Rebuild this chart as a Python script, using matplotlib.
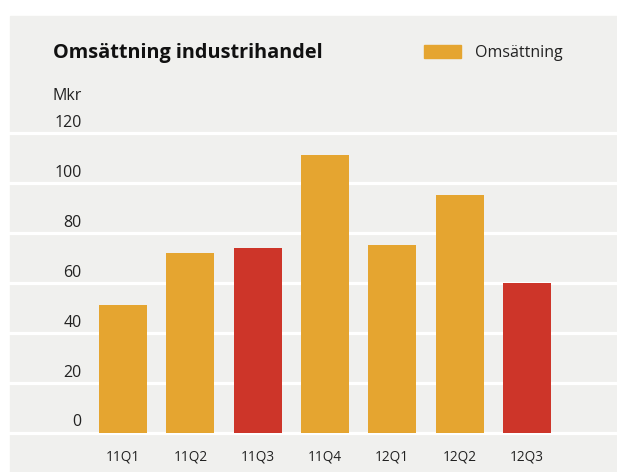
import matplotlib.pyplot as plt
from matplotlib.patches import Rectangle, Patch
from matplotlib import transforms

plt.rcParams['font.family'] = ['Open Sans', 'DejaVu Sans']

quarters = ['11Q1', '11Q2', '11Q3', '11Q4', '12Q1', '12Q2', '12Q3']
omsattning = [51, 72, 74, 111, 75, 95, 60]
highlight = [False, False, True, False, False, False, True]
y_ticks = [0, 20, 40, 60, 80, 100, 120]

orange = '#e5a530'
red = '#cd3529'
bg = '#f0f0ee'
txt = '#222222'

W, H = 617, 472
fig = plt.figure(figsize=(W / 100, H / 100), dpi=100)
fig.patches.append(Rectangle((10 / W, 0), (W - 10) / W, (H - 16) / H,
                             transform=fig.transFigure, color=bg, zorder=-1))

ax = fig.add_axes([10 / W, (H - 432.5) / H, (W - 10) / W, (432.5 - 133) / H])
ax.set_facecolor('none')
for s in ax.spines.values():
    s.set_visible(False)

for v in y_ticks:
    ax.axhline(v, color='white', lw=2.3, clip_on=False, zorder=1)

x = range(len(quarters))
colors = [red if h else orange for h in highlight]
ax.bar(x, omsattning, width=0.713, color=colors, zorder=2)

ax.set_xlim(-1.68, 7.34)
ax.set_ylim(0, 120)
ax.set_yticks([])
ax.set_xticks(list(x), quarters, fontsize=9.8, color=txt)
ax.tick_params(axis='x', length=0, pad=12.5)

trans = transforms.blended_transform_factory(ax.transAxes, ax.transData)
trans = transforms.offset_copy(trans, fig=fig, x=0, y=10, units='dots')
for v in y_ticks:
    ax.text((81.7 - 10) / (W - 10), v, str(v), transform=trans, ha='right',
            va='center', fontsize=11.5, color=txt)

fig.text(52.7 / W, 1 - 53 / H, 'Omsättning industrihandel', fontsize=14.3,
         fontweight='bold', color='#111111', va='center', ha='left')
fig.text(52.7 / W, 1 - 96 / H, 'Mkr', fontsize=11.5, color=txt, va='center', ha='left')

fs = 11.5 * 100 / 72
fig.legend(handles=[Patch(color=orange)], labels=['Omsättning'], loc='center left',
           bbox_to_anchor=(424 / W, 1 - 53 / H), frameon=False, fontsize=11.5,
           handlelength=37 / fs, handleheight=14 / fs, handletextpad=14 / fs,
           borderpad=0, borderaxespad=0, labelcolor=txt)

fig.savefig('out.png', dpi=100, facecolor='white')
